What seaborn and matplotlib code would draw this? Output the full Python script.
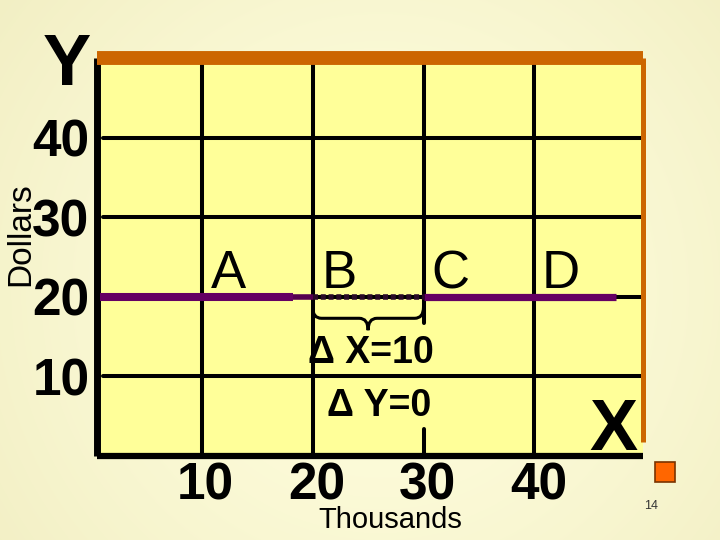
import numpy as np
import pandas as pd
import matplotlib
matplotlib.use("Agg")
import matplotlib.pyplot as plt
import seaborn as sns
from matplotlib.path import Path
from matplotlib.patches import PathPatch, Rectangle

# ---- data ----
quantity_ticks = [10, 20, 30, 40]          # Thousands
dollar_ticks = [10, 20, 30, 40]            # Dollars
point_quantity = [10, 20, 30, 40]
point_labels = ["A", "B", "C", "D"]
price_level = 20
demand_start = 0.8
demand_thin_from = 18.2
demand_end = 47.4
delta_from = 20
delta_to = 30
delta_x_text = "Δ X=10"
delta_y_text = "Δ Y=0"
page_number = "14"

sns.set_theme(style="white")
plt.rcParams["font.family"] = ["Liberation Sans", "DejaVu Sans"]
plt.rcParams["text.color"] = "black"
plt.rcParams["xtick.color"] = "black"
plt.rcParams["ytick.color"] = "black"
plt.rcParams["axes.labelcolor"] = "black"

W, H = 720, 540
fig = plt.figure(figsize=(7.2, 5.4), dpi=100)

# soft slide background gradient
yy, xx = np.mgrid[0:H, 0:W]
r = np.sqrt((xx - 380) ** 2 + (yy - 290) ** 2) / 480.0
t = np.clip(r, 0, 1) ** 1.4
light = np.array([255, 254, 222]) / 255.0
dark = np.array([242, 239, 196]) / 255.0
bg = light[None, None, :] * (1 - t[..., None]) + dark[None, None, :] * t[..., None]
fig.figimage(bg, 0, 0, zorder=-10, origin="upper")

ax = fig.add_axes([96.5 / W, 1 - 456 / H, (643 - 96.5) / W, (456 - 58) / H])
ax.set_facecolor("#FFFF99")
ax.set_xlim(0.5, 49.8)
ax.set_ylim(0, 50)

# grid lines
y0, y1 = ax.get_ylim()
for q in quantity_ticks:
    if q == delta_to:
        ax.axvline(q, ymin=0, ymax=(3.4 - y0) / (y1 - y0), color="black", lw=2.9, zorder=1)
        ax.axvline(q, ymin=(16.7 - y0) / (y1 - y0), ymax=1, color="black", lw=2.9, zorder=1)
    else:
        ax.axvline(q, color="black", lw=2.9, zorder=1)
for p in dollar_ticks:
    ax.axhline(p, xmin=0.012, xmax=1, color="black", lw=2.9, zorder=1)

# demand line (perfectly elastic at $20)
seg_left = pd.DataFrame({"q": [demand_start, demand_thin_from], "p": [price_level, price_level]})
seg_thin = pd.DataFrame({"q": [demand_thin_from, delta_from], "p": [price_level, price_level]})
seg_right = pd.DataFrame({"q": [delta_to, demand_end], "p": [price_level, price_level]})
sns.lineplot(data=seg_left, x="q", y="p", color="#650063", lw=5.8, ax=ax, zorder=3,
             solid_capstyle="butt")
sns.lineplot(data=seg_thin, x="q", y="p", color="#55004f", lw=4.0, ax=ax, zorder=3,
             solid_capstyle="butt")
sns.lineplot(data=seg_right, x="q", y="p", color="#650063", lw=5.2, ax=ax, zorder=3,
             solid_capstyle="butt")
# dotted stretch between B and C
ax.plot([delta_from, delta_to], [price_level, price_level], color="#2a0a28", lw=4.0,
        linestyle=(0, (0.9, 0.5)), dash_capstyle="butt", zorder=3)
ax.set_xlabel("")
ax.set_ylabel("")

# point labels
for q, lab in zip(point_quantity, point_labels):
    ax.annotate(lab, (q, price_level), xytext=(19, 6), textcoords="offset points",
                ha="center", va="baseline", fontsize=38, color="black", zorder=4)

# brace under the dotted segment
xm = (delta_from + delta_to) / 2
yt, ymd, ytip, dx = 18.7, 17.3, 15.8, 0.8
verts = [(delta_from, yt), (delta_from, ymd), (delta_from + dx, ymd), (xm - dx, ymd),
         (xm, ymd), (xm, ytip),
         (delta_to, yt), (delta_to, ymd), (delta_to - dx, ymd), (xm + dx, ymd),
         (xm, ymd), (xm, ytip)]
codes = [Path.MOVETO, Path.CURVE3, Path.CURVE3, Path.LINETO, Path.CURVE3, Path.CURVE3] * 2
ax.add_patch(PathPatch(Path(verts, codes), facecolor="none", edgecolor="black", lw=2.2, zorder=4))

# delta annotations
ax.text(19.55, 11.7, delta_x_text, fontsize=27, fontweight="bold", ha="left", va="baseline", zorder=4)
ax.text(21.3, 5.0, delta_y_text, fontsize=27, fontweight="bold", ha="left", va="baseline", zorder=4)

# ticks
ax.set_xticks(quantity_ticks)
ax.set_xticklabels([str(v) for v in quantity_ticks], fontsize=37, fontweight="bold")
ax.set_yticks(dollar_ticks)
ax.set_yticklabels([str(v) for v in dollar_ticks], fontsize=37, fontweight="bold")
ax.tick_params(axis="x", length=0, pad=4, colors="black")
ax.tick_params(axis="y", length=0, pad=5, colors="black")
for lbl in ax.get_xticklabels():
    lbl.set_x(lbl.get_position()[0])
# nudge x tick labels slightly right as in the reference
import matplotlib.transforms as mtrans
offset = mtrans.ScaledTranslation(4 / 100, 0, fig.dpi_scale_trans)
for lbl in ax.get_xticklabels():
    lbl.set_transform(lbl.get_transform() + offset)

# spines
ax.spines["left"].set_color("black")
ax.spines["left"].set_linewidth(5)
ax.spines["bottom"].set_color("black")
ax.spines["bottom"].set_linewidth(4.5)
ax.spines["top"].set_color("#CC6600")
ax.spines["top"].set_linewidth(10)
ax.spines["top"].set_zorder(3)
ax.spines["right"].set_color("#CC6600")
ax.spines["right"].set_linewidth(3.6)
ax.spines["right"].set_bounds(1.8, 50)
for s in ax.spines.values():
    s.set_capstyle("butt")

# axis titles and page decorations
fig.text(67 / W, 1 - 85 / H, "Y", fontsize=52, fontweight="bold", ha="center", va="baseline")
fig.text(613 / W, 1 - 450 / H, "X", fontsize=52, fontweight="bold", ha="center", va="baseline")
fig.text(390 / W, 1 - 528 / H, "Thousands", fontsize=21, ha="center", va="baseline")
fig.text(21 / W, 1 - 234 / H, "Dollars", fontsize=24, rotation=90, ha="center", va="center")
fig.text(644 / W, 1 - 509 / H, page_number, fontsize=9, color="#333333", ha="left", va="baseline")
fig.patches.append(Rectangle((655 / W, 1 - 482 / H), 20 / W, 20 / H, transform=fig.transFigure,
                             facecolor="#FF6600", edgecolor="#7A3300", lw=1.2))

fig.savefig("out.png", dpi=100)
